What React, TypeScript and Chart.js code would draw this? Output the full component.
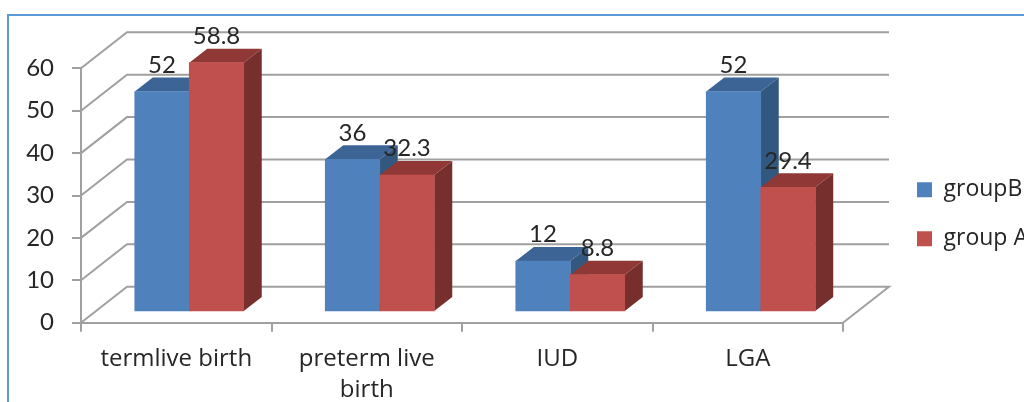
import React, { useEffect, useRef } from "react";
import { Chart, registerables } from "chart.js";

Chart.register(...registerables);

const categories = ["termlive birth", ["preterm live", "birth"], "IUD", "LGA"];
const groupBValues = [52, 36, 12, 52];
const groupAValues = [58.8, 32.3, 8.8, 29.4];

const FONT = "Lato";
const LABEL_FONT = "'Open Sans'";
const TEXT = "#262626";
const GRID = "#A0A0A0";
const GRID_WIDTH = 2;

// Depth of the box the plot sits in, and of each column inside it.
const WALL_DX = 46;
const WALL_DY = 36;
const BAR_DX = 18;
const BAR_DY = 14;
const BAR_SHIFT_X = 13;
const BAR_SHIFT_Y = 10.7;

const faceColors = [
  { top: "#3C6596", side: "#33587F" },
  { top: "#8F3836", side: "#772F2D" },
];

function polygon(ctx: CanvasRenderingContext2D, pts: number[][], fill: string) {
  ctx.beginPath();
  pts.forEach(([x, y], i) => (i ? ctx.lineTo(x, y) : ctx.moveTo(x, y)));
  ctx.closePath();
  ctx.fillStyle = fill;
  ctx.fill();
}

const box3d = {
  id: "box3d",
  // Tick labels may run below the box the axis was fitted to.
  afterLayout(chart: any) {
    chart.scales.x.bottom = chart.height;
  },
  beforeDatasetsDraw(chart: any) {
    const { ctx, chartArea, scales } = chart;
    const y = scales.y;

    // Side wall and back wall gridlines, plus the edge of the floor.
    ctx.save();
    ctx.strokeStyle = GRID;
    ctx.lineWidth = GRID_WIDTH;
    y.ticks.forEach((tick: any) => {
      const py = y.getPixelForValue(tick.value);
      ctx.beginPath();
      ctx.moveTo(chartArea.left, py);
      ctx.lineTo(chartArea.left + WALL_DX, py - WALL_DY);
      ctx.lineTo(chartArea.right + WALL_DX, py - WALL_DY);
      if (tick.value === 0) ctx.lineTo(chartArea.right, py);
      ctx.stroke();
    });
    ctx.restore();

    // Columns go left to right so each one covers the side of its neighbour.
    chart.data.datasets.forEach((_: any, index: number) => {
      const meta = chart.getDatasetMeta(index);
      const colors = faceColors[index];
      meta.data.forEach((bar: any) => {
        const p = bar.getProps(["x", "y", "base", "width"]);
        const l = p.x - p.width / 2 + BAR_SHIFT_X;
        const r = p.x + p.width / 2 + BAR_SHIFT_X;
        const t = p.y - BAR_SHIFT_Y;
        const b = p.base - BAR_SHIFT_Y;
        polygon(ctx, [[l, t], [r, t], [r + BAR_DX, t - BAR_DY], [l + BAR_DX, t - BAR_DY]], colors.top);
        polygon(ctx, [[r, t], [r + BAR_DX, t - BAR_DY], [r + BAR_DX, b - BAR_DY], [r, b]], colors.side);
      });
      ctx.save();
      ctx.translate(BAR_SHIFT_X, -BAR_SHIFT_Y);
      meta.controller.draw();
      ctx.restore();
    });
  },
  // The columns are already painted above.
  beforeDatasetDraw() {
    return false;
  },
  // Value labels above each column.
  afterDatasetsDraw(chart: any) {
    const { ctx, data } = chart;
    ctx.save();
    ctx.font = `24px ${FONT}`;
    ctx.fillStyle = TEXT;
    ctx.textAlign = "center";
    ctx.textBaseline = "middle";
    data.datasets.forEach((ds: any, i: number) => {
      chart.getDatasetMeta(i).data.forEach((bar: any, j: number) => {
        const p = bar.getProps(["x", "y"]);
        ctx.fillText(String(ds.data[j]), p.x + BAR_SHIFT_X, p.y - BAR_SHIFT_Y - 26.5);
      });
    });
    ctx.restore();
  },
};

export default function App() {
  const ref = useRef<HTMLCanvasElement>(null);

  useEffect(() => {
    const chart = new Chart(ref.current as HTMLCanvasElement, {
      type: "bar",
      data: {
        labels: categories as any,
        datasets: [
          { label: "groupB", data: groupBValues, backgroundColor: "#4F81BD", yAxisID: "y" },
          { label: "group A", data: groupAValues, backgroundColor: "#C0504D", yAxisID: "y" },
        ],
      },
      options: {
        animation: false,
        responsive: false,
        barThickness: 54.5,
        layout: { padding: { left: 0, right: 0, top: 68.3, bottom: 42 } },
        plugins: {
          tooltip: { enabled: false },
          legend: {
            position: "right",
            maxWidth: 133,
            labels: {
              boxWidth: 15,
              boxHeight: 15,
              padding: 26,
              color: TEXT,
              font: { family: LABEL_FONT, size: 23 },
            },
          },
        },
        scales: {
          x: {
            grid: { drawOnChartArea: false, color: GRID, lineWidth: GRID_WIDTH, tickLength: 9, offset: true },
            border: { color: GRID, width: GRID_WIDTH },
            ticks: {
              color: TEXT,
              autoSkip: false,
              maxRotation: 0,
              padding: 11,
              font: { family: LABEL_FONT, size: 24, lineHeight: 1.33 },
            },
            afterFit(scale: any) {
              scale.height = 37.3;
            },
          },
          y: {
            min: 0,
            max: 60,
            grid: { drawOnChartArea: false, color: GRID, lineWidth: GRID_WIDTH, tickLength: 9 },
            border: { color: GRID, width: GRID_WIDTH },
            ticks: {
              stepSize: 10,
              color: TEXT,
              padding: 18,
              font: { family: FONT, size: 24 },
            },
            afterFit(scale: any) {
              scale.width = 81;
            },
          },
          // Empty axis that keeps the 3D depth clear of the legend.
          gutter: {
            position: "right",
            grid: { display: false },
            border: { display: false },
            ticks: { display: false },
            afterFit(scale: any) {
              scale.width = 48;
            },
          },
        },
      } as any,
      plugins: [box3d],
    });
    return () => chart.destroy();
  }, []);

  return (
    <div style={{ position: "fixed", left: 0, top: 0, width: 1024, height: 402, overflow: "hidden", background: "#fff" }}>
      <div style={{ position: "absolute", left: 7, top: 14, width: 1200, height: 600, border: "2px solid #5B9BD5" }} />
      <canvas ref={ref} width={1024} height={402} style={{ position: "absolute", left: 0, top: 0, display: "block" }} />
    </div>
  );
}
